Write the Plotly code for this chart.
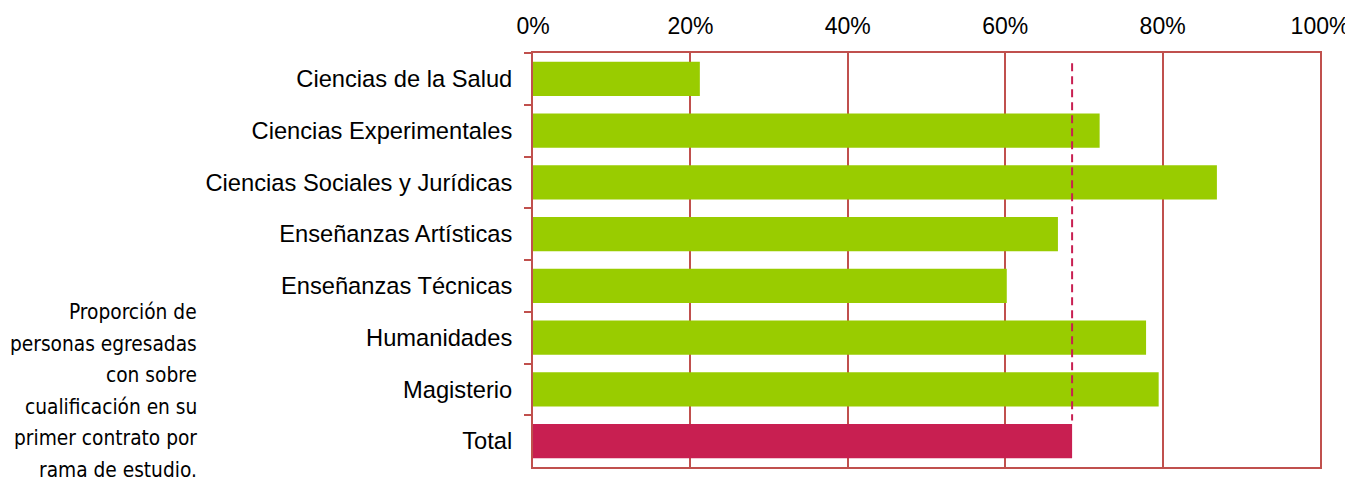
import plotly.graph_objects as go

categories = ["Ciencias de la Salud", "Ciencias Experimentales", "Ciencias Sociales y Jurídicas",
              "Enseñanzas Artísticas", "Enseñanzas Técnicas", "Humanidades", "Magisterio", "Total"]
values = [0.212, 0.720, 0.869, 0.667, 0.602, 0.779, 0.795, 0.685]
bar_colors = ["#99CC00"] * 7 + ["#C81F51"]
total_value = values[-1]
x_ticks = [0, 0.2, 0.4, 0.6, 0.8, 1.0]
note_lines = ["Proporción de", "personas egresadas", "con sobre",
              "cualificación en su", "primer contrato por", "rama de estudio."]

grid_color = "#C0504D"

fig = go.Figure()
fig.add_trace(go.Bar(
    y=categories, x=values, orientation="h",
    marker=dict(color=bar_colors, line=dict(width=0)),
    hoverinfo="x+y",
))

fig.add_shape(type="line", xref="x", yref="y",
              x0=total_value, x1=total_value, y0=-0.3, y1=6.6,
              line=dict(color="#C81F51", width=2, dash="8px,5px"))

# note block, one annotation per line (line pitch ~31.5 px)
plot_h = 414
for i, line in enumerate(note_lines):
    y_px = 312 + 31.5 * i          # screen centre of the line
    fig.add_annotation(text=line, xref="paper", yref="paper",
                       x=(199 - 533) / 787, y=(467 - y_px) / plot_h,
                       xanchor="right", yanchor="middle",
                       align="right", showarrow=False,
                       font=dict(family="DejaVu Sans Condensed, Liberation Sans Narrow, sans-serif",
                                 size=20.7, color="#000000"))

fig.update_layout(
    width=1353, height=480,
    margin=dict(l=525, r=41, t=45, b=21),
    paper_bgcolor="white", plot_bgcolor="white",
    bargap=0.34,
    showlegend=False,
    font=dict(family="Liberation Sans, Arial, sans-serif", size=23, color="#000000"),
    xaxis=dict(side="top", range=[0, 1], tickvals=x_ticks, tickformat=".0%",
               showgrid=True, gridcolor=grid_color, gridwidth=2,
               showline=True, linecolor=grid_color, linewidth=2, mirror=True,
               ticks="", zeroline=False, fixedrange=True, ticklabelstandoff=8,
               automargin=False),
    yaxis=dict(autorange="reversed", showgrid=False, showline=True, linecolor=grid_color,
               linewidth=2, mirror=True, ticks="outside", tickson="boundaries",
               ticklen=7, tickwidth=2, tickcolor=grid_color, ticklabelstandoff=14,
               tickfont=dict(size=23.7), fixedrange=True, automargin=False),
)

fig.write_html("out.html")
